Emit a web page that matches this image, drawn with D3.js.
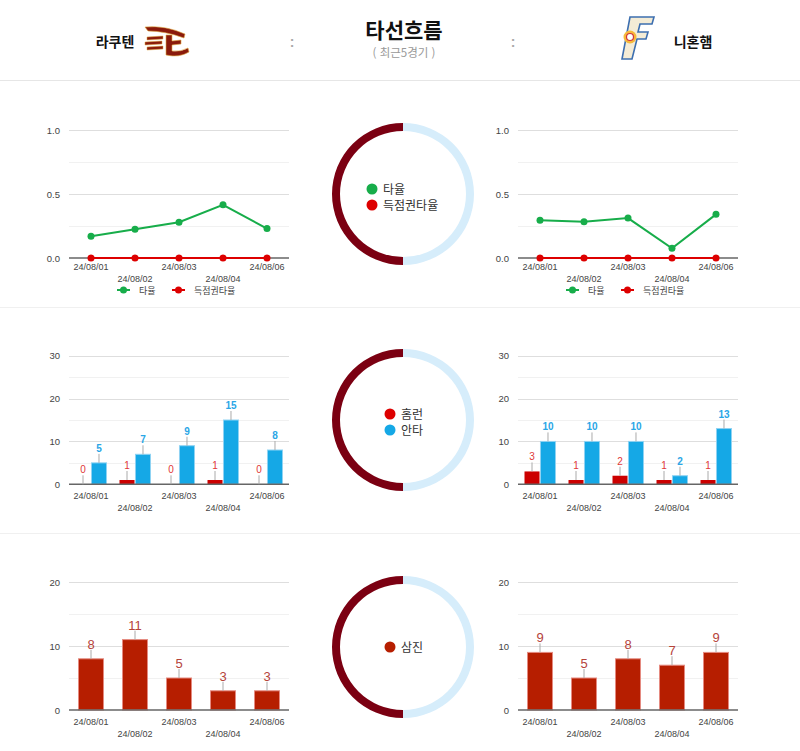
<!DOCTYPE html>
<html lang="ko">
<head>
<meta charset="UTF-8">
<title>타선흐름</title>
<script src="https://cdn.jsdelivr.net/npm/d3@7"></script>
<style>
  body { margin: 0; background: #fff; }
  svg { display: block; font-family: Arial, "Liberation Sans", "Noto Sans CJK KR", sans-serif; }
  .kr { font-family: "Noto Sans CJK KR", "Noto Sans", sans-serif; }
</style>
</head>
<body>
<svg id="chart" width="800" height="751"></svg>
<script>
// 데이터
var dates = ['24/08/01', '24/08/02', '24/08/03', '24/08/04', '24/08/06']
var rakutenAvg = [0.17, 0.224, 0.28, 0.416, 0.23]
var rakutenRisp = [0, 0, 0, 0, 0]
var nipponAvg = [0.294, 0.284, 0.312, 0.076, 0.341]
var nipponRisp = [0, 0, 0, 0, 0]
var rakutenHr = [0, 1, 0, 1, 0]
var rakutenHits = [5, 7, 9, 15, 8]
var nipponHr = [3, 1, 2, 1, 1]
var nipponHits = [10, 10, 10, 2, 13]
var rakutenSo = [8, 11, 5, 3, 3]
var nipponSo = [9, 5, 8, 7, 9]
var avgTicks = [0, 0.5, 1.0]
var hitTicks = [0, 10, 20, 30]
var soTicks = [0, 10, 20]

var svg = d3.select('#chart')
var C = {
  green: '#17ad4a', red: '#dd0000', blue: '#15a8e6', so: '#b61e00',
  dark: '#7b0012', light: '#d6edfb'
}

// 헤더
svg.append('line').attr('x1', 0).attr('x2', 800).attr('y1', 80.5).attr('y2', 80.5).attr('stroke', '#e6e6e6')
svg.append('line').attr('x1', 0).attr('x2', 800).attr('y1', 307.5).attr('y2', 307.5).attr('stroke', '#f0f0f0')
svg.append('line').attr('x1', 0).attr('x2', 800).attr('y1', 533.5).attr('y2', 533.5).attr('stroke', '#f0f0f0')

svg.append('text').attr('class', 'kr').attr('x', 404).attr('y', 38).attr('text-anchor', 'middle')
  .attr('font-size', 21).attr('font-weight', 'bold').attr('fill', '#111').text('타선흐름')
svg.append('text').attr('class', 'kr').attr('x', 404).attr('y', 57).attr('text-anchor', 'middle')
  .attr('font-size', 11.5).attr('fill', '#999').text('( 최근5경기 )')
svg.append('text').attr('class', 'kr').attr('x', 115).attr('y', 47).attr('text-anchor', 'middle')
  .attr('font-size', 14).attr('font-weight', 'bold').attr('fill', '#111').text('라쿠텐')
svg.append('text').attr('class', 'kr').attr('x', 693).attr('y', 47).attr('text-anchor', 'middle')
  .attr('font-size', 14).attr('font-weight', 'bold').attr('fill', '#111').text('니혼햄')
;[292, 513].forEach(function (x) {
  svg.append('text').attr('x', x).attr('y', 47).attr('text-anchor', 'middle')
    .attr('font-size', 14).attr('font-weight', 'bold').attr('fill', '#aaa').text(':')
})

// 라쿠텐 로고 (간략화)
var lg = svg.append('g').attr('transform', 'translate(143,24)')
lg.append('path').attr('d', 'M2,3 Q22,1 42,10 L41,14 Q22,7 5,7 Z').attr('fill', '#8a1a0c').attr('stroke', '#e0a840').attr('stroke-width', 0.6)
;[[4, 13, 16], [2, 18, 17], [4, 23, 16]].forEach(function (r) {
  lg.append('path').attr('d', 'M' + r[0] + ',' + r[1] + ' L' + (r[0] + r[2]) + ',' + (r[1] - 1) + ' L' + (r[0] + r[2]) + ',' + (r[1] + 2) + ' L' + r[0] + ',' + (r[1] + 3) + ' Z')
    .attr('fill', '#8a1a0c').attr('stroke', '#e0a840').attr('stroke-width', 0.5)
})
lg.append('path').attr('d', 'M23,11 L29,11 L29,17 L38,16 L38,20 L29,21 L29,27 Q38,28 45,24 L46,28 Q36,34 23,31 Z')
  .attr('fill', '#8a1a0c').attr('stroke', '#e0a840').attr('stroke-width', 0.6)

// 니혼햄 로고 (간략화)
var ng = svg.append('g').attr('transform', 'translate(618,13)')
ng.append('path').attr('d', 'M12,4 L36,4 L34,11 L22,11 L20,19 L30,19 L28,26 L19,26 L14,46 L4,46 Z')
  .attr('fill', '#f4ecd6').attr('stroke', '#3d6fb0').attr('stroke-width', 1.6)
ng.append('circle').attr('cx', 12).attr('cy', 24).attr('r', 6.5).attr('fill', '#f6b93b')
ng.append('circle').attr('cx', 12).attr('cy', 24).attr('r', 3.5).attr('fill', '#fff').attr('stroke', '#d2343a').attr('stroke-width', 1.2)

// 도넛
function donut (cy, items) {
  var g = svg.append('g').attr('transform', 'translate(403,' + cy + ')')
  var arc = d3.arc().innerRadius(63).outerRadius(71)
  var pie = d3.pie().sort(null)([1, 1])
  g.selectAll('path.half').data(pie).enter().append('path')
    .attr('d', arc).attr('fill', function (d, i) { return i === 0 ? C.light : C.dark })
  var lx = items.x
  items.list.forEach(function (it, i) {
    var y = items.y0 + i * 16
    g.append('circle').attr('cx', lx).attr('cy', y).attr('r', 5.5).attr('fill', it[1])
    g.append('text').attr('class', 'kr').attr('x', lx + 11).attr('y', y + 4.5)
      .attr('font-size', 12).attr('fill', '#333').text(it[0])
  })
}
donut(194, { x: -31, y0: -5, list: [['타율', C.green], ['득점권타율', C.red]] })
donut(420, { x: -13, y0: -6, list: [['홈런', C.red], ['안타', C.blue]] })
donut(647, { x: -13, y0: 0, list: [['삼진', C.so]] })

// 공통 축
function frame (x0, y, ticks, minor, fmt, rowOff) {
  var g = svg.append('g')
  var x = d3.scaleBand().domain(dates).range([x0, x0 + 220]).paddingInner(0.432).paddingOuter(0.216)
  minor.forEach(function (t) {
    g.append('line').attr('x1', x0).attr('x2', x0 + 220).attr('y1', Math.round(y(t)) + 0.5).attr('y2', Math.round(y(t)) + 0.5).attr('stroke', '#f1f1f1')
  })
  ticks.forEach(function (t) {
    if (t !== 0) {
      g.append('line').attr('x1', x0).attr('x2', x0 + 220).attr('y1', Math.round(y(t)) + 0.5).attr('y2', Math.round(y(t)) + 0.5).attr('stroke', '#dedede')
    }
    g.append('text').attr('x', x0 - 9).attr('y', y(t) + 3.5).attr('text-anchor', 'end')
      .attr('font-size', 9.5).attr('fill', '#444').text(fmt(t))
  })
  dates.forEach(function (d, i) {
    g.append('text').attr('x', x(d) + x.bandwidth() / 2).attr('y', y(0) + (i % 2 ? rowOff[1] : rowOff[0]) + 3.5)
      .attr('text-anchor', 'middle').attr('font-size', 9).attr('fill', '#444').text(d)
  })
  return { g: g, x: x }
}
function baseline (g, x0, y) {
  g.append('line').attr('x1', x0).attr('x2', x0 + 220).attr('y1', y(0)).attr('y2', y(0)).attr('stroke', '#666').attr('stroke-width', 1.5)
}

// 타율 라인차트
function lineChart (x0, avg, risp) {
  var y = d3.scaleLinear().domain([0, 1]).range([258, 130])
  var f = frame(x0, y, avgTicks, [0.25, 0.75], d3.format('.1f'), [8, 20])
  var g = f.g, x = f.x
  baseline(g, x0, y)
  var cx = function (d, i) { return x(dates[i]) + x.bandwidth() / 2 }
  ;[[avg, C.green], [risp, C.red]].forEach(function (s) {
    var line = d3.line().x(cx).y(function (d) { return y(d) })
    g.append('path').attr('d', line(s[0])).attr('fill', 'none').attr('stroke', s[1]).attr('stroke-width', 2)
    g.selectAll(null).data(s[0]).enter().append('circle')
      .attr('cx', cx).attr('cy', function (d) { return y(d) }).attr('r', 3.5).attr('fill', s[1])
  })
  // 범례
  ;[['타율', C.green, 48], ['득점권타율', C.red, 103]].forEach(function (l) {
    var lx = x0 + l[2]
    g.append('line').attr('x1', lx).attr('x2', lx + 13).attr('y1', 290).attr('y2', 290).attr('stroke', l[1]).attr('stroke-width', 2)
    g.append('circle').attr('cx', lx + 6.5).attr('cy', 290).attr('r', 3.5).attr('fill', l[1])
    g.append('text').attr('class', 'kr').attr('x', lx + 22).attr('y', 293.5).attr('font-size', 9).attr('fill', '#444').text(l[0])
  })
}
lineChart(69, rakutenAvg, rakutenRisp)
lineChart(518, nipponAvg, nipponRisp)

// 라벨 + 줄기
function annotate (g, cx, top, val, color, size, weight, gap) {
  g.append('line').attr('x1', cx).attr('x2', cx).attr('y1', top).attr('y2', top - 9).attr('stroke', '#aaa').attr('stroke-width', 1)
  g.append('text').attr('x', cx).attr('y', top - gap).attr('text-anchor', 'middle')
    .attr('font-size', size).attr('font-weight', weight).attr('fill', color).text(val)
}

// 홈런/안타 막대
function hitChart (x0, hr, hits) {
  var y = d3.scaleLinear().domain([0, 30]).range([484.3, 355.7])
  var f = frame(x0, y, hitTicks, [5, 15, 25], d3.format('d'), [11.5, 23.5])
  var g = f.g, x = f.x
  var x1 = d3.scaleBand().domain(['hr', 'hits']).range([-15.5, 15.5]).paddingInner(0.06)
  var series = [['hr', hr, '#cc0000', '#e03838', 'normal'], ['hits', hits, C.blue, '#2aa6e6', 'bold']]
  series.forEach(function (s) {
    g.selectAll(null).data(s[1]).enter().append('rect')
      .attr('x', function (d, i) { return x(dates[i]) + x.bandwidth() / 2 + x1(s[0]) })
      .attr('y', function (d) { return y(d) })
      .attr('width', x1.bandwidth())
      .attr('height', function (d) { return y(0) - y(d) })
      .attr('fill', s[2]).attr('stroke', s[0] === 'hits' ? '#8fd3f3' : 'none').attr('stroke-width', 1)
  })
  baseline(g, x0, y)
  series.forEach(function (s) {
    s[1].forEach(function (d, i) {
      annotate(g, x(dates[i]) + x.bandwidth() / 2 + x1(s[0]) + x1.bandwidth() / 2, y(d), d, s[3], 10, s[4], 11)
    })
  })
}
hitChart(69, rakutenHr, rakutenHits)
hitChart(518, nipponHr, nipponHits)

// 삼진 막대
function soChart (x0, so) {
  var y = d3.scaleLinear().domain([0, 20]).range([710, 582])
  var f = frame(x0, y, soTicks, [5, 15], d3.format('d'), [11.5, 23.5])
  var g = f.g, x = f.x
  g.selectAll(null).data(so).enter().append('rect')
    .attr('x', function (d, i) { return x(dates[i]) })
    .attr('y', function (d) { return y(d) })
    .attr('width', x.bandwidth())
    .attr('height', function (d) { return y(0) - y(d) })
    .attr('fill', C.so).attr('stroke', '#e58a80').attr('stroke-width', 1)
  baseline(g, x0, y)
  so.forEach(function (d, i) {
    annotate(g, x(dates[i]) + x.bandwidth() / 2, y(d), d, '#b5433a', 13, 'normal', 10)
  })
}
soChart(69, rakutenSo)
soChart(518, nipponSo)
</script>
</body>
</html>
